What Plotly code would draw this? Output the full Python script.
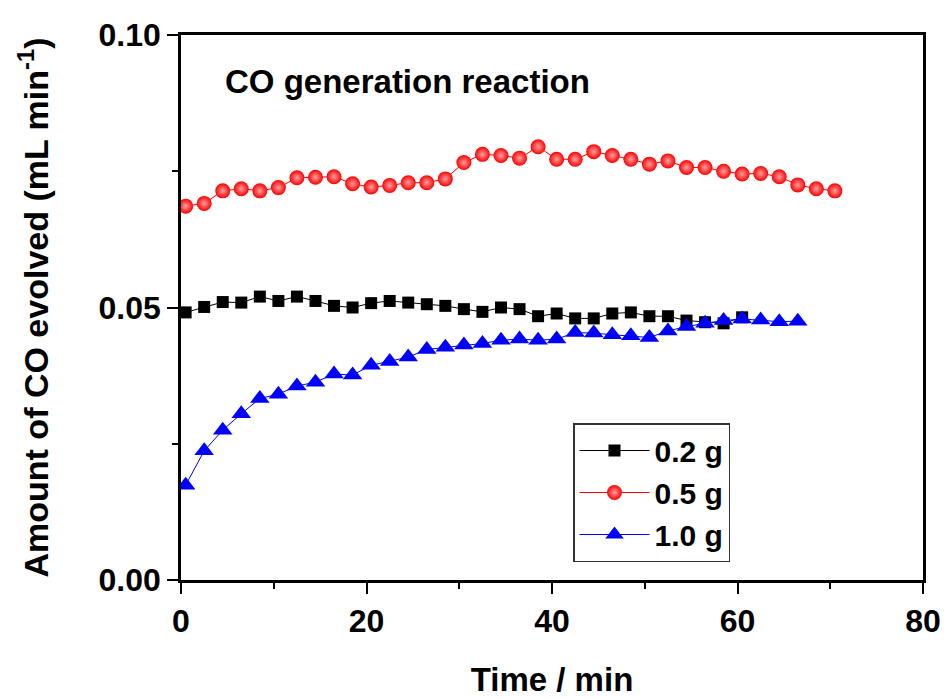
import plotly.graph_objects as go

# Time points (min)
time_02 = [0.5 + 2 * i for i in range(31)]
time_05 = [0.5 + 2 * i for i in range(36)]
time_10 = [0.5 + 2 * i for i in range(34)]

co_02 = [0.0491, 0.0501, 0.0510, 0.0509, 0.0520, 0.0512, 0.0520, 0.0512, 0.0503, 0.0500,
         0.0508, 0.0512, 0.0509, 0.0506, 0.0503, 0.0497, 0.0492, 0.0500, 0.0497, 0.0484,
         0.0489, 0.0480, 0.0480, 0.0489, 0.0491, 0.0484, 0.0484, 0.0476, 0.0473, 0.0471,
         0.0482]
co_05 = [0.0686, 0.0691, 0.0714, 0.0718, 0.0714, 0.0720, 0.0738, 0.0739, 0.0740, 0.0727,
         0.0721, 0.0724, 0.0729, 0.0729, 0.0736, 0.0766, 0.0781, 0.0779, 0.0774, 0.0795,
         0.0772, 0.0772, 0.0786, 0.0779, 0.0772, 0.0763, 0.0769, 0.0757, 0.0757, 0.0750,
         0.0745, 0.0746, 0.0740, 0.0725, 0.0718, 0.0714]
co_10 = [0.0174, 0.0237, 0.0275, 0.0305, 0.0333, 0.0341, 0.0356, 0.0363, 0.0378, 0.0376,
         0.0394, 0.0401, 0.0409, 0.0423, 0.0427, 0.0431, 0.0434, 0.0440, 0.0442, 0.0440,
         0.0442, 0.0454, 0.0453, 0.0450, 0.0448, 0.0445, 0.0457, 0.0465, 0.0471, 0.0476,
         0.0479, 0.0477, 0.0474, 0.0475]

series_names = ["0.2 g", "0.5 g", "1.0 g"]
x_ticks = [0, 20, 40, 60, 80]
x_ticklabels = ["0", "20", "40", "60", "80"]
y_ticks = [0.00, 0.05, 0.10]
y_ticklabels = ["0.00", "0.05", "0.10"]

FONT = "Liberation Sans, Arial, sans-serif"

fig = go.Figure()
fig.add_trace(go.Scatter(
    x=time_02, y=co_02, name="<b>" + series_names[0] + "</b>", mode="lines+markers",
    line=dict(color="black", width=1),
    marker=dict(symbol="square", size=12, color="black"),
))
fig.add_trace(go.Scatter(
    x=time_05, y=co_05, name="<b>" + series_names[1] + "</b>", mode="lines+markers",
    line=dict(color="red", width=1),
    marker=dict(symbol="circle", size=15, color="#ff0000",
                gradient=dict(type="radial", color="#ffa0a0")),
))
fig.add_trace(go.Scatter(
    x=time_10, y=co_10, name="<b>" + series_names[2] + "</b>", mode="lines+markers",
    line=dict(color="blue", width=1),
    marker=dict(symbol="triangle-up", size=17, color="blue"),
))

axis_common = dict(
    showline=True, linecolor="black", linewidth=2.5, mirror=True,
    showgrid=False, zeroline=False, automargin=False,
    ticks="outside", ticklen=11, tickwidth=2, tickcolor="black",
    tickfont=dict(family=FONT, size=32, color="black"),
)

fig.update_layout(
    width=946, height=698,
    margin=dict(l=181, r=23, t=35, b=118),
    paper_bgcolor="white", plot_bgcolor="white",
    showlegend=True,
    legend=dict(
        x=(573 - 181) / 742, y=(580 - 423) / 545, xanchor="left", yanchor="top",
        bgcolor="white", bordercolor="#333333", borderwidth=1.5,
        font=dict(family=FONT, size=30, color="black"),
        tracegroupgap=0, itemsizing="trace", itemwidth=70,
    ),
    xaxis=dict(
        range=[0, 80], tickvals=x_ticks, ticktext=["<b>" + t + "</b>" for t in x_ticklabels],
        minor=dict(dtick=10, ticks="outside", ticklen=6, tickwidth=2, tickcolor="black"),
        title=dict(text="<b>Time / min</b>", standoff=45,
                   font=dict(family=FONT, size=33, color="black")),
        **axis_common,
    ),
    yaxis=dict(
        range=[0, 0.10], tickvals=y_ticks, ticktext=["<b>" + t + "</b>" for t in y_ticklabels],
        minor=dict(dtick=0.025, ticks="outside", ticklen=6, tickwidth=2, tickcolor="black"),
        title=dict(text="<b>Amount of CO evolved (mL min<sup>-1</sup>)</b>", standoff=40,
                   font=dict(family=FONT, size=34, color="black")),
        **axis_common,
    ),
    annotations=[dict(
        text="<b>CO generation reaction</b>", xref="paper", yref="paper",
        x=(223 - 181) / 742, y=(580 - 82) / 545, xanchor="left", yanchor="middle",
        showarrow=False,
        font=dict(family=FONT, size=33, color="black"),
    )],
)

fig.write_html("out.html")
